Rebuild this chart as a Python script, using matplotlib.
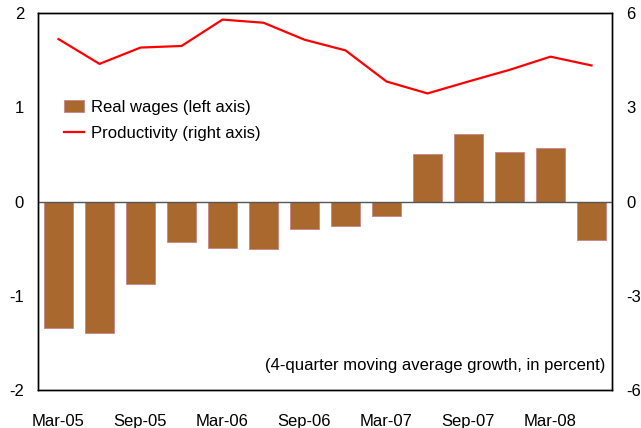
import matplotlib.pyplot as plt
from matplotlib.patches import Patch
from matplotlib.lines import Line2D

plt.rcParams['font.family'] = ['Liberation Sans', 'DejaVu Sans']
plt.rcParams['axes.unicode_minus'] = False

quarters = ['Mar-05', 'Jun-05', 'Sep-05', 'Dec-05', 'Mar-06', 'Jun-06', 'Sep-06',
            'Dec-06', 'Mar-07', 'Jun-07', 'Sep-07', 'Dec-07', 'Mar-08', 'Jun-08']
real_wages = [-1.34, -1.40, -0.88, -0.435, -0.495, -0.50, -0.29,
              -0.26, -0.15, 0.50, 0.72, 0.53, 0.57, -0.41]
productivity = [5.17, 4.38, 4.90, 4.95, 5.79, 5.69, 5.15,
                4.81, 3.82, 3.44, 3.82, 4.19, 4.61, 4.33]

bar_color = '#A8682E'
line_color = '#FF0000'

fig = plt.figure(figsize=(6.41, 4.28), dpi=100)
ax = fig.add_axes([38 / 641, 1 - 390 / 428, 574 / 641, 377 / 428])
x = list(range(len(quarters)))

ax.bar(x, real_wages, width=0.7, color=bar_color, edgecolor='#C9848A', linewidth=0.6, zorder=2)
ax.axhline(0, color='#555555', linewidth=1.0, zorder=3)
ax.set_xlim(-0.5, len(quarters) - 0.5)
ax.set_ylim(-2, 2)
ax.set_yticks([-2, -1, 0, 1, 2])
ax.set_xticks(x[::2])
ax.set_xticklabels(quarters[::2])
ax.tick_params(axis='both', length=0, labelsize=12)
ax.tick_params(axis='x', pad=17)
ax.tick_params(axis='y', pad=10)

ax2 = ax.twinx()
ax2.plot(x, productivity, color=line_color, linewidth=1.6, zorder=4)
ax2.set_ylim(-6, 6)
ax2.set_yticks([-6, -3, 0, 3, 6])
ax2.tick_params(axis='y', length=0, labelsize=12, pad=10)

for a in (ax, ax2):
    for s in a.spines.values():
        s.set_linewidth(1.0)
        s.set_color('black')

handles = [Patch(facecolor=bar_color, edgecolor='#C9848A', linewidth=0.6),
           Line2D([0], [0], color=line_color, linewidth=1.6)]
ax.legend(handles, ['Real wages (left axis)', 'Productivity (right axis)'],
          loc='upper left', bbox_to_anchor=(0.02, 0.81), frameon=False,
          fontsize=12, handlelength=1.2, handletextpad=0.4, labelspacing=0.68)

ax.text(0.988, 0.064, '(4-quarter moving average growth, in percent)',
        transform=ax.transAxes, ha='right', va='center', fontsize=12)

fig.savefig('out.png', dpi=100)
